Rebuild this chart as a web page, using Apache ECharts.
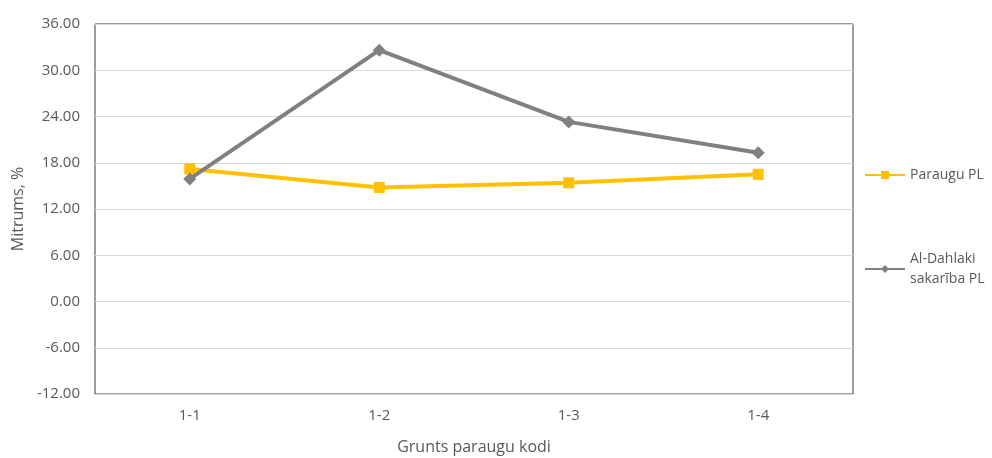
<!DOCTYPE html>
<html><head><meta charset="utf-8">
<script src="https://cdn.jsdelivr.net/npm/echarts@6/dist/echarts.min.js"></script>
<style>html,body{margin:0;padding:0;background:#fff}#c{width:992px;height:458px}</style>
</head><body><div id="c"></div>
<script>
const categories = ['1-1', '1-2', '1-3', '1-4'];
const paraugu = [17.2, 14.8, 15.4, 16.5];
const alDahlaki = [15.9, 32.6, 23.3, 19.3];
const seriesNames = ['Paraugu PL', 'Al-Dahlaki\nsakarība PL'];
const yTicks = { min: -12, max: 36, interval: 6 };

const font = '"Open Sans", Lato, sans-serif';
const txt = '#595959';
const chart = echarts.init(document.getElementById('c'));
chart.setOption({
  animation: false,
  textStyle: { fontFamily: font },
  grid: { left: 95, top: 24, width: 758, height: 370, show: true, borderColor: '#3a3a3a', borderWidth: 1,
          containLabel: false, outerBoundsMode: 'none' },
  legend: [
    { orient: 'vertical', left: 864, top: 168, padding: 0, itemWidth: 40, itemHeight: 10, itemGap: 10,
      textStyle: { color: txt, fontSize: 14, fontFamily: font }, data: [seriesNames[0]] },
    { orient: 'vertical', left: 864, top: 249, padding: 0, itemWidth: 40, itemHeight: 10,
      textStyle: { color: txt, fontSize: 14, fontFamily: font, lineHeight: 20 }, data: [seriesNames[1]] }
  ],
  xAxis: {
    type: 'category', data: categories, boundaryGap: true,
    name: 'Grunts paraugu kodi', nameLocation: 'middle', nameGap: 45,
    nameTextStyle: { color: txt, fontSize: 16, fontFamily: font },
    axisLine: { show: false }, axisTick: { show: false },
    axisLabel: { color: txt, fontSize: 15, margin: 14, fontFamily: font }
  },
  yAxis: {
    type: 'value', min: yTicks.min, max: yTicks.max, interval: yTicks.interval,
    name: 'Mitrums, %', nameLocation: 'middle', nameGap: 68, nameRotate: 90,
    nameTextStyle: { color: txt, fontSize: 16, fontFamily: font },
    axisLine: { show: false }, axisTick: { show: false },
    axisLabel: { color: txt, fontSize: 15, margin: 15, fontFamily: font, formatter: v => v.toFixed(2) },
    splitLine: { lineStyle: { color: '#d9d9d9', width: 1 } }
  },
  series: [
    { name: seriesNames[0], type: 'line', data: paraugu, symbol: 'rect', symbolSize: 11,
      lineStyle: { color: '#FFC000', width: 4 }, itemStyle: { color: '#FFC000' }, z: 2 },
    { name: seriesNames[1], type: 'line', data: alDahlaki, symbol: 'diamond', symbolSize: 13,
      lineStyle: { color: '#808080', width: 4 }, itemStyle: { color: '#808080' }, z: 3 }
  ]
});
</script></body></html>
